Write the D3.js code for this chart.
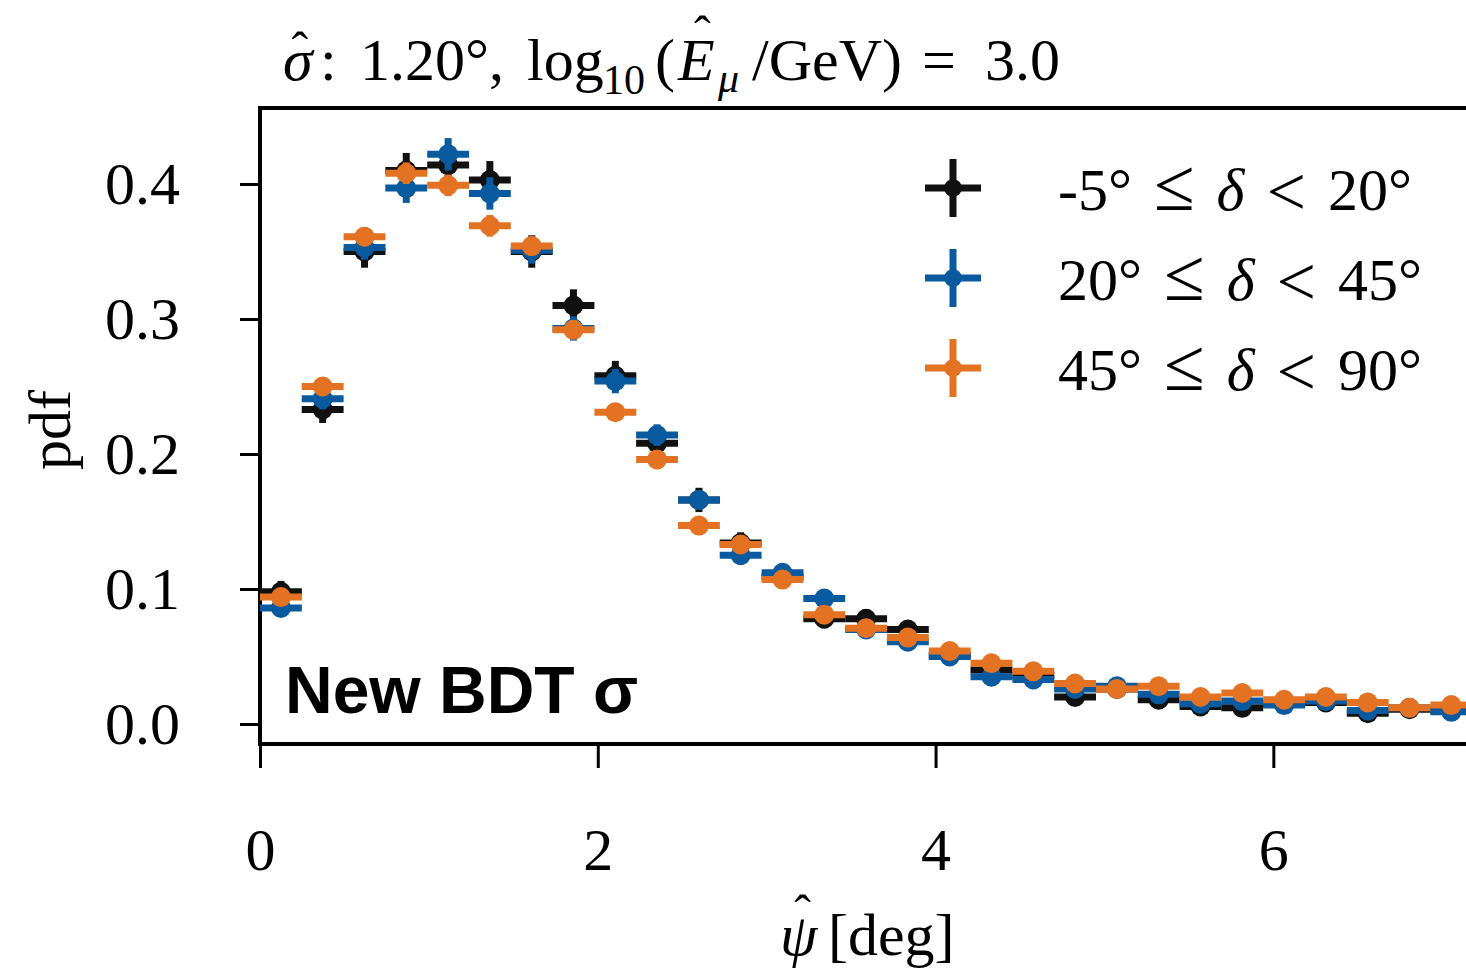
<!DOCTYPE html>
<html>
<head>
<style>
  body { margin: 0; background: #fff; }
  text { font-family: "Liberation Serif", "DejaVu Serif", serif; }
</style>
</head>
<body>
<script src="https://d3js.org/d3.v7.min.js"></script>
<script>
// bin centres of psi-hat [deg], bin half width
var psiCenters = [0.124, 0.371, 0.619, 0.866, 1.114, 1.361, 1.609, 1.856, 2.104, 2.351,
                  2.599, 2.846, 3.094, 3.341, 3.589, 3.836, 4.084, 4.331, 4.579, 4.826,
                  5.074, 5.321, 5.569, 5.816, 6.064, 6.311, 6.559, 6.806, 7.054];
var psiHalfWidth = 0.124;

// pdf values per declination band
var pdfBand1 = [0.098, 0.233, 0.350, 0.410, 0.414, 0.403, 0.350, 0.310, 0.258, 0.208,
                0.166, 0.134, 0.109, 0.078, 0.078, 0.070, 0.051, 0.040, 0.036, 0.020,
                0.026, 0.018, 0.013, 0.012, 0.015, 0.016, 0.008, 0.011, 0.010];
var pdfBand2 = [0.086, 0.241, 0.353, 0.397, 0.422, 0.393, 0.351, 0.293, 0.254, 0.214,
                0.166, 0.125, 0.112, 0.093, 0.070, 0.061, 0.050, 0.035, 0.033, 0.026,
                0.028, 0.022, 0.015, 0.017, 0.014, 0.017, 0.010, 0.012, 0.009];
var pdfBand3 = [0.094, 0.250, 0.361, 0.408, 0.399, 0.369, 0.354, 0.292, 0.231, 0.196,
                0.147, 0.133, 0.107, 0.081, 0.071, 0.064, 0.054, 0.045, 0.039, 0.030,
                0.026, 0.028, 0.020, 0.023, 0.018, 0.020, 0.016, 0.012, 0.014];

// vertical errors
var errBand1 = [0.008, 0.010, 0.012, 0.013, 0.013, 0.014, 0.012, 0.012, 0.011, 0.010,
                0.009, 0.008, 0.008, 0.007, 0.007, 0.006, 0.006, 0.005, 0.005, 0.004,
                0.004, 0.004, 0.003, 0.003, 0.003, 0.003, 0.003, 0.002, 0.002];
var errBand2 = [0.006, 0.008, 0.009, 0.011, 0.012, 0.012, 0.010, 0.009, 0.009, 0.008,
                0.007, 0.007, 0.006, 0.006, 0.005, 0.005, 0.004, 0.004, 0.004, 0.003,
                0.003, 0.003, 0.003, 0.002, 0.002, 0.002, 0.002, 0.002, 0.002];
var errBand3 = [0.005, 0.006, 0.007, 0.008, 0.008, 0.008, 0.007, 0.007, 0.006, 0.006,
                0.005, 0.005, 0.005, 0.004, 0.004, 0.004, 0.003, 0.003, 0.003, 0.003,
                0.002, 0.002, 0.002, 0.002, 0.002, 0.002, 0.002, 0.002, 0.002];

var bandLabels = [["-5°", "20°"], ["20°", "45°"], ["45°", "90°"]];
var bandColors = ["#111111", "#0a5aa0", "#e37222"];

var xTicks = [0, 2, 4, 6];
var yTicks = [0.0, 0.1, 0.2, 0.3, 0.4];

var width = 1466, height = 975;
var mLeft = 260, mRight = 1514, mTop = 108, mBottom = 744;

var svg = d3.select("body").append("svg")
    .attr("width", width)
    .attr("height", height)
    .style("background", "#fff");

var x = d3.scaleLinear().domain([0, 7.425]).range([mLeft, mRight]);
var y = d3.scaleLinear().domain([-0.0148, 0.4563]).range([mBottom, mTop]);

// axes
var yAxis = svg.append("g")
    .attr("transform", "translate(" + mLeft + ",0)")
    .call(d3.axisLeft(y).tickValues(yTicks).tickFormat(d3.format(".1f"))
          .tickSize(20).tickPadding(60));
var xAxis = svg.append("g")
    .attr("transform", "translate(0," + mBottom + ")")
    .call(d3.axisBottom(x).tickValues(xTicks).tickFormat(d3.format("d"))
          .tickSize(24).tickPadding(102));

[xAxis, yAxis].forEach(function(a) {
  a.select(".domain").remove();
  a.selectAll(".tick line").attr("stroke", "#000").attr("stroke-width", 3);
  a.selectAll(".tick text").attr("fill", "#000").style("font-size", "60px")
   .style("font-family", "'Liberation Serif', serif");
});
xAxis.selectAll(".tick text").attr("dy", "0em");

// spines (right side runs off the picture)
svg.append("path")
   .attr("d", d3.line()([[mRight + 20, mTop], [mLeft, mTop], [mLeft, mBottom], [mRight + 20, mBottom]]))
   .attr("fill", "none").attr("stroke", "#000").attr("stroke-width", 4);

// data series
var series = [pdfBand1, pdfBand2, pdfBand3];
var errors = [errBand1, errBand2, errBand3];
series.forEach(function(vals, s) {
  var g = svg.append("g");
  var pts = vals.map(function(v, i) { return { x: psiCenters[i], y: v, e: errors[s][i] }; });
  g.selectAll("line.h").data(pts).enter().append("line")
    .attr("x1", function(d) { return x(d.x - psiHalfWidth); })
    .attr("x2", function(d) { return x(d.x + psiHalfWidth); })
    .attr("y1", function(d) { return y(d.y); })
    .attr("y2", function(d) { return y(d.y); })
    .attr("stroke", bandColors[s]).attr("stroke-width", 7);
  g.selectAll("line.v").data(pts).enter().append("line")
    .attr("x1", function(d) { return x(d.x); })
    .attr("x2", function(d) { return x(d.x); })
    .attr("y1", function(d) { return y(d.y - d.e); })
    .attr("y2", function(d) { return y(d.y + d.e); })
    .attr("stroke", bandColors[s]).attr("stroke-width", 7);
  g.selectAll("circle").data(pts).enter().append("circle")
    .attr("cx", function(d) { return x(d.x); })
    .attr("cy", function(d) { return y(d.y); })
    .attr("r", 10)
    .attr("fill", bandColors[s]);
});

// put a circumflex over one character of a text element
function addHat(textSel, idx, dx, dy) {
  var box = textSel.node().getExtentOfChar(idx);
  svg.append("text")
     .attr("x", box.x + box.width / 2 + dx)
     .attr("y", box.y + dy)
     .attr("text-anchor", "middle")
     .style("font-size", "50px")
     .text("\u02c6");
}

// legend
var legend = svg.append("g");
bandLabels.forEach(function(lab, i) {
  var cy = 188 + i * 90, cx = 953;
  legend.append("line").attr("x1", cx - 28).attr("x2", cx + 28).attr("y1", cy).attr("y2", cy)
    .attr("stroke", bandColors[i]).attr("stroke-width", 7);
  legend.append("line").attr("x1", cx).attr("x2", cx).attr("y1", cy - 29).attr("y2", cy + 29)
    .attr("stroke", bandColors[i]).attr("stroke-width", 7);
  legend.append("circle").attr("cx", cx).attr("cy", cy).attr("r", 9).attr("fill", bandColors[i]);
  var t = legend.append("text").attr("x", 1058).attr("y", cy + 22)
    .style("font-size", "60px").style("word-spacing", "7px");
  t.append("tspan").text(lab[0] + " ");
  t.append("tspan").style("font-size", "74px").text("\u2264");
  t.append("tspan").text(" ");
  t.append("tspan").style("font-style", "italic").text("\u03b4");
  t.append("tspan").text(" ");
  t.append("tspan").attr("dy", 5).style("font-size", "70px").text("<");
  t.append("tspan").attr("dy", -5).text(" " + lab[1]);
});

// title
var title = svg.append("text").attr("y", 80).style("font-size", "60px");
title.append("tspan").attr("x", 283).style("font-style", "italic").text("\u03c3");
title.append("tspan").attr("x", 320).text(":");
title.append("tspan").attr("x", 360).text("1.20°,");
title.append("tspan").attr("x", 527).text("log");
title.append("tspan").attr("x", 603).attr("dy", 14).style("font-size", "42px").text("10");
title.append("tspan").attr("x", 655).attr("dy", -14).text("(");
title.append("tspan").attr("x", 678).style("font-style", "italic").text("E");
title.append("tspan").attr("x", 718).attr("dy", 12).style("font-size", "42px").style("font-style", "italic").text("\u03bc");
title.append("tspan").attr("x", 752).attr("dy", -12).text("/GeV)");
title.append("tspan").attr("x", 922).text("=");
title.append("tspan").attr("x", 985).text("3.0");
addHat(title, 0, 2, 40);
addHat(title, 14, 6, 24);

// axis labels
svg.append("text").attr("transform", "translate(70,430) rotate(-90)")
   .attr("text-anchor", "middle").style("font-size", "60px").text("pdf");
var xl = svg.append("text").attr("x", 780).attr("y", 955).style("font-size", "60px");
xl.append("tspan").style("font-style", "italic").text("\u03c8");
xl.append("tspan").attr("x", 828).text("[deg]");
addHat(xl, 0, 4, 28);

// annotation
svg.append("text").attr("x", 285).attr("y", 713)
   .style("font-family", "'Liberation Sans', Arial, sans-serif")
   .style("font-weight", "bold").style("font-size", "66px")
   .text("New BDT \u03c3");
</script>
</body>
</html>
